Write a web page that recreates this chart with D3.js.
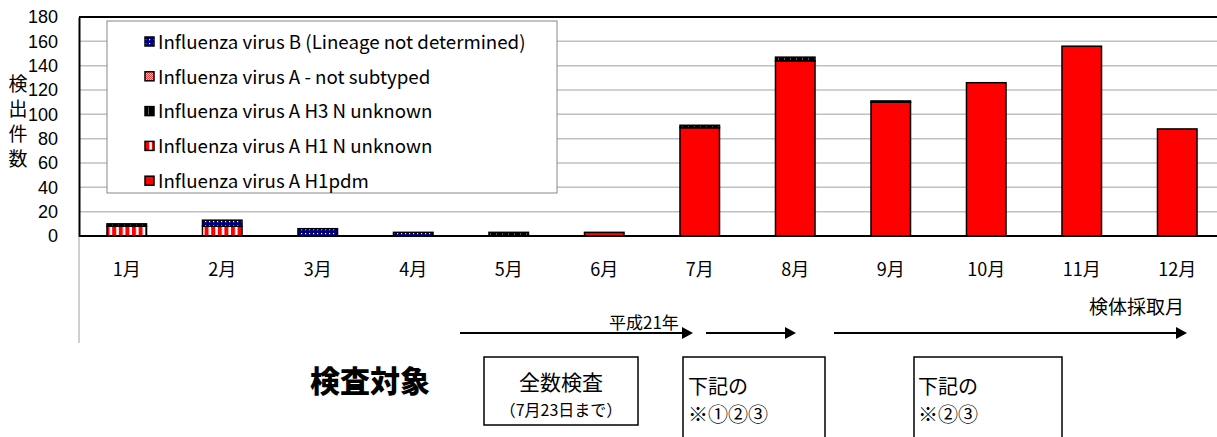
<!DOCTYPE html>
<html>
<head>
<meta charset="utf-8">
<script src="https://cdn.jsdelivr.net/npm/d3@7"></script>
<style>
  html, body { margin: 0; padding: 0; background: #fff; }
  svg { display: block; }
  text { font-family: "Noto Sans CJK JP", "Liberation Sans", sans-serif; fill: #000; }
</style>
</head>
<body>
<svg id="chart"></svg>
<script>
const WIDTH = 1217;
const HEIGHT = 437;

// data (counts per month, 平成21年)
const months = ["1月", "2月", "3月", "4月", "5月", "6月", "7月", "8月", "9月", "10月", "11月", "12月"];
const h1pdm = [0, 0, 0, 0, 0, 3, 89, 144, 110, 126, 156, 88];
const h1Unknown = [8, 8, 0, 0, 0, 0, 0, 0, 0, 0, 0, 0];
const h3Unknown = [2, 0, 0, 0, 3, 0, 2, 3, 1, 0, 0, 0];
const notSubtyped = [0, 0, 0, 0, 0, 0, 0, 0, 0, 0, 0, 0];
const typeB = [0, 5, 6, 3, 0, 0, 0, 0, 0, 0, 0, 0];
const yTicks = [0, 20, 40, 60, 80, 100, 120, 140, 160, 180];

// stacking order, bottom to top
const seriesKeys = ["h1pdm", "h1Unknown", "h3Unknown", "notSubtyped", "typeB"];
const seriesNames = {
  typeB: "Influenza virus B (Lineage not determined)",
  notSubtyped: "Influenza virus A - not subtyped",
  h3Unknown: "Influenza virus A H3 N unknown",
  h1Unknown: "Influenza virus A H1 N unknown",
  h1pdm: "Influenza virus A H1pdm"
};
const legendOrder = ["typeB", "notSubtyped", "h3Unknown", "h1Unknown", "h1pdm"];

const table = months.map(function(m, i) {
  return {
    month: m,
    h1pdm: h1pdm[i],
    h1Unknown: h1Unknown[i],
    h3Unknown: h3Unknown[i],
    notSubtyped: notSubtyped[i],
    typeB: typeB[i]
  };
});

const svg = d3.select("#chart").attr("width", WIDTH).attr("height", HEIGHT);

// fill patterns like the spreadsheet ones
const defs = svg.append("defs");
let p = defs.append("pattern").attr("id", "pat-h1Unknown")
    .attr("patternUnits", "userSpaceOnUse").attr("width", 6.6).attr("height", 10);
p.append("rect").attr("width", 6.6).attr("height", 10).attr("fill", "#fff");
p.append("rect").attr("width", 4).attr("height", 10).attr("fill", "#ff0000");

p = defs.append("pattern").attr("id", "pat-h3Unknown")
    .attr("patternUnits", "userSpaceOnUse").attr("width", 6).attr("height", 10);
p.append("rect").attr("width", 6).attr("height", 10).attr("fill", "#000");
p.append("rect").attr("x", 4).attr("width", 1).attr("height", 10)
    .attr("fill", "#fff").attr("opacity", 0.35);

p = defs.append("pattern").attr("id", "pat-notSubtyped")
    .attr("patternUnits", "userSpaceOnUse").attr("width", 2).attr("height", 2);
p.append("rect").attr("width", 2).attr("height", 2).attr("fill", "#ff0000");
p.append("rect").attr("width", 1).attr("height", 1).attr("fill", "#fff");
p.append("rect").attr("x", 1).attr("y", 1).attr("width", 1).attr("height", 1).attr("fill", "#fff");

p = defs.append("pattern").attr("id", "pat-typeB")
    .attr("patternUnits", "userSpaceOnUse").attr("width", 4).attr("height", 4);
p.append("rect").attr("width", 4).attr("height", 4).attr("fill", "#000080");
p.append("rect").attr("x", 1).attr("y", 1).attr("width", 1.2).attr("height", 1.2).attr("fill", "#fff");

const fills = {
  h1pdm: "#ff0000",
  h1Unknown: "url(#pat-h1Unknown)",
  h3Unknown: "url(#pat-h3Unknown)",
  notSubtyped: "url(#pat-notSubtyped)",
  typeB: "url(#pat-typeB)"
};

// plot area
const plotLeft = 79, plotTop = 17, plotBottom = 236;
const step = 95.5;

const x = d3.scaleBand()
    .domain(months)
    .range([plotLeft, plotLeft + step * months.length])
    .paddingInner(0.586)
    .paddingOuter(0.293);

const y = d3.scaleLinear()
    .domain([0, 180])
    .range([plotBottom, plotTop]);

// gridlines
svg.append("g")
  .selectAll("line")
  .data(yTicks.filter(function(t) { return t > 0 && t < 180; }))
  .join("line")
    .attr("x1", plotLeft).attr("x2", WIDTH)
    .attr("y1", function(d) { return y(d); })
    .attr("y2", function(d) { return y(d); })
    .attr("stroke", "#c0c0c0")
    .attr("stroke-width", 1.5);

// top border of plot
svg.append("line")
    .attr("x1", plotLeft).attr("x2", WIDTH)
    .attr("y1", y(180)).attr("y2", y(180))
    .attr("stroke", "#000").attr("stroke-width", 2);

// grey line under the left axis
svg.append("line")
    .attr("x1", plotLeft).attr("x2", plotLeft)
    .attr("y1", plotBottom).attr("y2", 343)
    .attr("stroke", "#a0a0a0").attr("stroke-width", 1);

// legend box
const legend = svg.append("g");
legend.append("rect")
    .attr("x", 107).attr("y", 21)
    .attr("width", 450).attr("height", 172)
    .attr("fill", "#fff")
    .attr("stroke", "#888").attr("stroke-width", 1);

const legendRows = legend.selectAll("g.row")
  .data(legendOrder)
  .join("g")
    .attr("class", "row")
    .attr("transform", function(d, i) { return "translate(0," + (42 + i * 34.8) + ")"; });

legendRows.append("rect")
    .attr("x", 145).attr("y", -5)
    .attr("width", 9).attr("height", 9)
    .attr("fill", function(d) { return fills[d]; })
    .attr("stroke", "#000").attr("stroke-width", 1.5);

const legendText = legendRows.append("text")
    .attr("x", 158).attr("dy", "0.36em")
    .style("font-size", "16px")
    .text(function(d) { return seriesNames[d]; });

// fit the legend text to the width it has in the picture
const widest = d3.max(legendText.nodes(), function(n) { return n.getComputedTextLength(); });
legendText.style("font-size", (16 * 368 / widest).toFixed(2) + "px");

// stacked bars
const stack = d3.stack().keys(seriesKeys);
const layers = stack(table);

svg.append("g")
  .selectAll("g")
  .data(layers)
  .join("g")
    .attr("fill", function(d) { return fills[d.key]; })
  .selectAll("rect")
  .data(function(d) { return d.filter(function(s) { return s[1] - s[0] > 0; }); })
  .join("rect")
    .attr("x", function(d) { return x(d.data.month); })
    .attr("width", x.bandwidth())
    .attr("y", function(d) { return y(d[1]); })
    .attr("height", function(d) { return y(d[0]) - y(d[1]); })
    .attr("stroke", "#000")
    .attr("stroke-width", 1.5);

// axes
const yAxis = svg.append("g")
    .attr("transform", "translate(" + plotLeft + ",0)")
    .call(d3.axisLeft(y).tickValues(yTicks).tickSize(0).tickPadding(21));
yAxis.select(".domain").attr("stroke", "#000").attr("stroke-width", 2);
yAxis.selectAll("text")
    .style("font-family", "'Liberation Sans', Arial, sans-serif")
    .style("font-size", "18px");

const xAxis = svg.append("g")
    .attr("transform", "translate(0," + plotBottom + ")")
    .call(d3.axisBottom(x).tickSize(0).tickPadding(0));
xAxis.select(".domain").remove();
xAxis.append("line")
    .attr("x1", plotLeft).attr("x2", WIDTH)
    .attr("stroke", "#000").attr("stroke-width", 2);
xAxis.selectAll("text")
    .attr("y", 34).attr("dy", "0.36em")
    .style("font-family", "'Noto Sans CJK JP', sans-serif")
    .style("font-size", "18px");

// y title, written top to bottom
svg.append("g")
  .selectAll("text")
  .data("検出件数".split(""))
  .join("text")
    .attr("x", 18)
    .attr("y", function(d, i) { return 84 + i * 25; })
    .attr("dy", "0.36em")
    .attr("text-anchor", "middle")
    .style("font-size", "19px")
    .text(function(d) { return d; });

// annotations under the chart
svg.append("text")
    .attr("x", 1184).attr("y", 307).attr("dy", "0.36em")
    .attr("text-anchor", "end")
    .style("font-size", "19px")
    .text("検体採取月");

svg.append("text")
    .attr("x", 609).attr("y", 323).attr("dy", "0.36em")
    .style("font-size", "17px")
    .text("平成21年");

const arrows = [[460, 693], [706, 796], [834, 1187]];
const arrowY = 333;
svg.append("g")
  .selectAll("g")
  .data(arrows)
  .join("g")
  .each(function(d) {
    const g = d3.select(this);
    g.append("line")
        .attr("x1", d[0]).attr("x2", d[1] - 8)
        .attr("y1", arrowY).attr("y2", arrowY)
        .attr("stroke", "#000").attr("stroke-width", 2);
    g.append("path")
        .attr("d", "M" + d[1] + "," + arrowY + " L" + (d[1] - 11) + "," + (arrowY - 6) +
              " L" + (d[1] - 11) + "," + (arrowY + 6) + " Z")
        .attr("fill", "#000");
  });

svg.append("text")
    .attr("x", 370).attr("y", 381).attr("dy", "0.36em")
    .attr("text-anchor", "middle")
    .style("font-size", "30px")
    .style("font-weight", 900)
    .text("検査対象");

const boxes = [
  { x: 484, y: 357, w: 154, h: 68 },
  { x: 683, y: 357, w: 142, h: 100 },
  { x: 914, y: 357, w: 148, h: 100 }
];
svg.append("g")
  .selectAll("rect")
  .data(boxes)
  .join("rect")
    .attr("x", function(d) { return d.x; })
    .attr("y", function(d) { return d.y; })
    .attr("width", function(d) { return d.w; })
    .attr("height", function(d) { return d.h; })
    .attr("fill", "#fff")
    .attr("stroke", "#000").attr("stroke-width", 1.5);

svg.append("text")
    .attr("x", 561).attr("y", 382).attr("dy", "0.36em")
    .attr("text-anchor", "middle")
    .style("font-size", "21px")
    .text("全数検査");
svg.append("text")
    .attr("x", 561).attr("y", 410).attr("dy", "0.36em")
    .attr("text-anchor", "middle")
    .style("font-size", "16px")
    .text("（7月23日まで）");

const boxNotes = [
  { x: 688, lines: ["下記の", "※①②③"] },
  { x: 918, lines: ["下記の", "※②③"] }
];
boxNotes.forEach(function(b) {
  b.lines.forEach(function(t, i) {
    svg.append("text")
        .attr("x", b.x).attr("y", 387 + i * 28).attr("dy", "0.36em")
        .style("font-size", "20px")
        .text(t);
  });
});
</script>
</body>
</html>
